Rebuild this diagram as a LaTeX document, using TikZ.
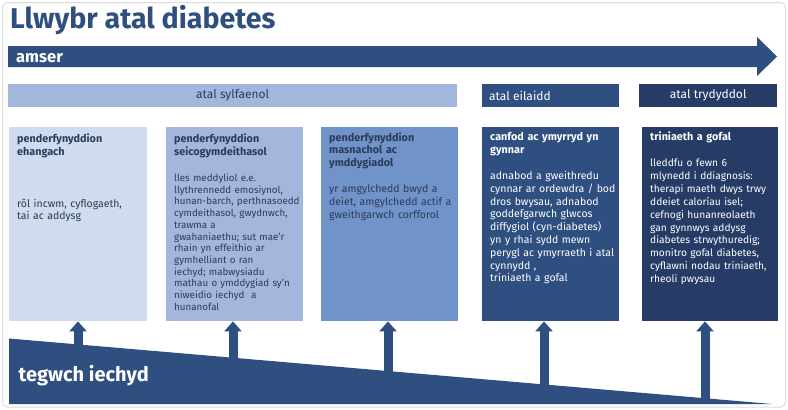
\documentclass[tikz,border=0pt]{standalone}
\usepackage{fontspec}
\setmainfont{Fira Sans}
\usetikzlibrary{arrows.meta}
\definecolor{cA}{HTML}{CFDBEE}
\definecolor{cB}{HTML}{A3B7DD}
\definecolor{cC}{HTML}{7093C9}
\definecolor{cD}{HTML}{2F4F80}
\definecolor{cE}{HTML}{263B65}
\definecolor{txt}{HTML}{2C3B5A}
\definecolor{frame}{HTML}{DDDDDD}
\tikzset{
  box/.style={anchor=north west, inner sep=0pt, minimum width=138pt, minimum height=194pt},
  band/.style={anchor=north west, inner sep=0pt, minimum height=23pt},
  head/.style={anchor=base west, inner sep=0pt, text width=132pt, align=left,
    font=\fontsize{10.8}{13.4}\selectfont\bfseries},
  body/.style={anchor=base west, inner sep=0pt, text width=132pt, align=left,
    font=\fontsize{10.5}{12.8}\selectfont},
  uparrow/.style={draw=cD, line width=9pt, -{Triangle[width=17pt,length=10pt]}},
}
\begin{document}
\begin{tikzpicture}[x=1pt,y=-1pt]
\useasboundingbox (0,0) rectangle (788,410);
\fill[white] (0,0) rectangle (788,410);
\draw[frame, line width=1pt, rounded corners=5pt] (2.5,2.5) rectangle (785.5,407);
% title
\node[anchor=base west, inner sep=0pt, text=cD, font=\fontsize{28.6}{32}\selectfont\bfseries] (title) at (10,28.5) {Llwybr atal diabetes};
% time arrow
\fill[cD] (8,46) -- (757,46) -- (757,37) -- (777,56.5) -- (757,76) -- (757,67) -- (8,67) -- cycle;
\node[anchor=base west, inner sep=0pt, text=white, font=\fontsize{16.5}{20}\selectfont\bfseries] (amser) at (16,62) {amser};
% bands
\node[band, fill=cB, minimum width=449pt, text=txt, font=\fontsize{12}{14}\selectfont] (b1) at (8,84) {atal sylfaenol};
\node[band, fill=cD, minimum width=137pt] (b2) at (482,84) {};
\node[anchor=west, inner sep=0pt, text=white, font=\fontsize{12}{14}\selectfont] (b2t) at (489,95.5) {atal eilaidd};
\node[band, fill=cE, minimum width=138pt, text=white, font=\fontsize{12}{14}\selectfont] (b3) at (639,84) {atal trydyddol};
% boxes
\node[box, fill=cA] (p1) at (9,127) {};
\node[box, fill=cB, minimum width=137pt] (p2) at (166,127) {};
\node[box, fill=cC, minimum width=137pt] (p3) at (321,127) {};
\node[box, fill=cD, minimum width=137pt] (p4) at (482,127) {};
\node[box, fill=cE, minimum width=136pt] (p5) at (642,127) {};
% box texts
\node[head, text=txt] (h1) at (17,142.5) {penderfynyddion\\ehangach};
\node[body, text=txt] (t1) at (17,207) {rôl incwm, cyflogaeth,\\tai ac addysg};
\node[head, text=txt] (h2) at (174,142.5) {penderfynyddion\\seicogymdeithasol};
\node[body, text=txt, font=\fontsize{9.8}{11.7}\selectfont] (t2) at (174,181.5) {lles meddyliol e.e.\\llythrennedd emosiynol,\\hunan-barch, perthnasoedd\\cymdeithasol, gwydnwch,\\trawma a\\gwahaniaethu; sut mae'r\\rhain yn effeithio ar\\gymhelliant o ran\\iechyd; mabwysiadu\\mathau o ymddygiad sy'n\\niweidio iechyd\ \ a\\hunanofal};
\node[head, text=txt, font=\fontsize{10.8}{12.9}\selectfont\bfseries] (h3) at (329,141) {penderfynyddion\\masnachol ac\\ymddygiadol};
\node[body, text=txt] (t3) at (329,192.5) {yr amgylchedd bwyd a\\deiet, amgylchedd actif a\\gweithgarwch corfforol};
\node[head, text=white] (h4) at (490,140) {canfod ac ymyrryd yn\\gynnar};
\node[body, text=white] (t4) at (490,179.5) {adnabod a gweithredu\\cynnar ar ordewdra / bod\\dros bwysau, adnabod\\goddefgarwch glwcos\\diffygiol (cyn-diabetes)\\yn y rhai sydd mewn\\perygl ac ymyrraeth i atal\\cynnydd ,\\triniaeth a gofal};
\node[head, text=white] (h5) at (650,140.5) {triniaeth a gofal};
\node[body, text=white, font=\fontsize{10.2}{12.9}\selectfont] (t5) at (650,166.5) {lleddfu o fewn 6\\mlynedd i ddiagnosis:\\therapi maeth dwys trwy\\ddeiet caloríau isel;\\cefnogi hunanreolaeth\\gan gynnwys addysg\\diabetes strwythuredig;\\monitro gofal diabetes,\\cyflawni nodau triniaeth,\\rheoli pwysau};
% arrows (drawn below the triangle)
\coordinate (a1) at (78,400);
\coordinate (a2) at (233,400);
\coordinate (a3) at (388,400);
\coordinate (a4) at (544,400);
\coordinate (a5) at (705,400);
\draw[uparrow] (a1) -- (a1 |- p1.south);
\draw[uparrow] (a2) -- (a2 |- p2.south);
\draw[uparrow] (a3) -- (a3 |- p3.south);
\draw[uparrow] (a4) -- (a4 |- p4.south);
\draw[uparrow] (a5) -- (a5 |- p5.south);
% equity triangle
\fill[cD] (9,338.5) -- (772,404) -- (9,404) -- cycle;
\node[anchor=base west, inner sep=0pt, text=white, font=\fontsize{20}{24}\selectfont\bfseries] (teg) at (18.5,381.5) {tegwch iechyd};
\end{tikzpicture}
\end{document}
